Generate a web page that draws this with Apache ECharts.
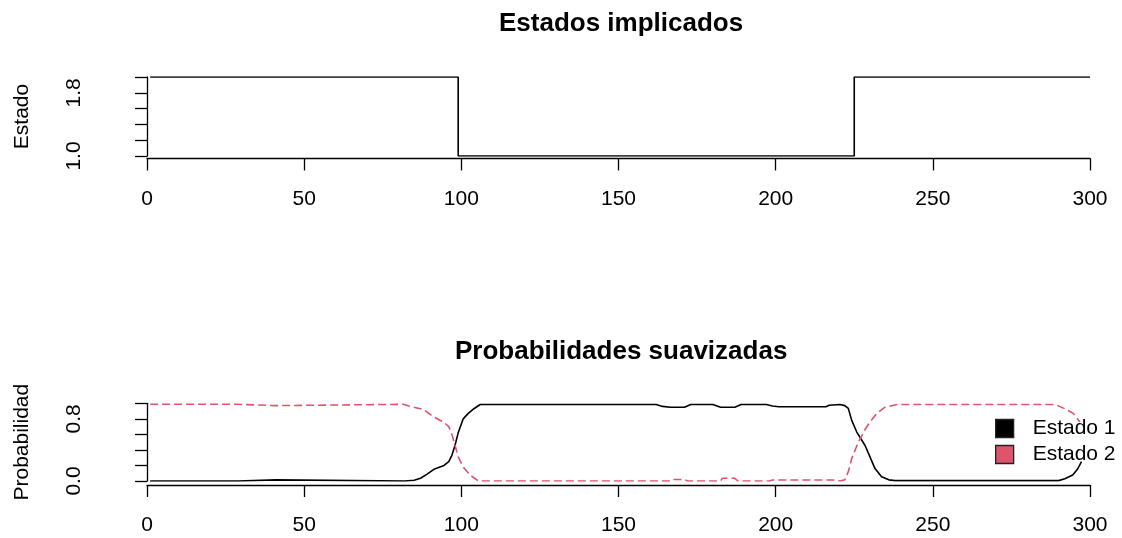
<!DOCTYPE html>
<html>
<head>
<meta charset="utf-8">
<title>Estados implicados</title>
<script src="https://cdn.jsdelivr.net/npm/echarts@6/dist/echarts.min.js"></script>
<style>
  html, body { margin: 0; padding: 0; background: #fff; }
  #chart { width: 1122px; height: 538px; }
</style>
</head>
<body>
<div id="chart"></div>
<script>
// Implied regime path: time at which each run starts, and its state
const estadoT = [1, 99, 225, 300];
const estadoV = [2, 1, 2, 2];

// Smoothed probability of regime 1 (time, probability)
const prob1T = [1, 29, 29.5, 41, 41.5, 82, 85, 87, 89, 91.5, 94.5, 96, 97, 98, 99, 100.6, 102.2, 104, 106,
  162, 164, 166.5, 171, 173, 180, 182.5, 187, 189, 197, 199, 201, 216, 217, 220.5, 222, 223.1, 224.2,
  225.8, 228.4, 230, 231.6, 233.7, 236, 238, 290, 292, 294.5, 296, 297.3];
const prob1V = [0.0, 0.0, 0.015, 0.015, 0.0, 0.0, 0.01, 0.035, 0.085, 0.155, 0.2, 0.25, 0.33, 0.46, 0.62, 0.8, 0.87, 0.93, 0.985,
  0.985, 0.96, 0.95, 0.95, 0.985, 0.985, 0.95, 0.95, 0.985, 0.985, 0.965, 0.955, 0.955, 0.975, 0.985, 0.97, 0.935, 0.78,
  0.63, 0.46, 0.31, 0.16, 0.055, 0.015, 0.005, 0.005, 0.03, 0.077, 0.15, 0.25];

// Smoothed probability of regime 2 (time, probability)
const prob2T = [1, 29, 29.5, 41, 41.5, 81.5, 84.7, 88, 91, 94.3, 96, 97, 98, 99, 100.6, 102.8, 105.4,
  166, 167, 171, 172, 182.5, 183, 187, 188, 198, 199, 219, 220.5, 222, 223.1, 224.2, 226.3, 228.4, 230,
  232.2, 234.8, 238.6, 288, 289.5, 292, 294.7, 296.8];
const prob2V = [0.987, 0.987, 0.97, 0.97, 0.987, 0.987, 0.95, 0.92, 0.83, 0.76, 0.70, 0.6, 0.46, 0.31, 0.18, 0.077, 0.0,
  0.0, 0.02, 0.02, 0.0, 0.0, 0.035, 0.035, 0.0, 0.0, 0.013, 0.013, 0.0, 0.015, 0.12, 0.29, 0.5, 0.66, 0.76,
  0.87, 0.95, 0.985, 0.985, 0.975, 0.93, 0.87, 0.76];

// Axis ticks and the labels printed on them
const xTicks = { min: 0, max: 300, step: 50 };
const yTopLabels = ['1.0', '1.8'];
const yBottomLabels = ['0.0', '0.8'];
const seriesNames = ['Estado 1', 'Estado 2'];
const seriesColors = ['#000000', '#DF536B'];

const FONT = '"Liberation Sans", Arial, sans-serif';
const pairs = (ts, vs) => ts.map((t, i) => [t, vs[i]]);

function xAxisFor(gridIndex, offset) {
  return {
    type: 'value', gridIndex, min: xTicks.min, max: xTicks.max, interval: xTicks.step,
    offset,
    axisLine: { show: true, onZero: false, lineStyle: { color: '#000', width: 1.3 } },
    axisTick: { show: true, length: 12, lineStyle: { color: '#000', width: 1.3 } },
    axisLabel: { margin: 30, color: '#000', fontSize: 21, fontFamily: FONT },
    splitLine: { show: false }
  };
}

function yAxisFor(gridIndex, min, max, labels, name) {
  return {
    type: 'value', gridIndex, min, max, interval: 0.2, offset: 37,
    name, nameLocation: 'middle', nameRotate: 90, nameGap: 77,
    nameTextStyle: { color: '#000', fontSize: 21, fontFamily: FONT },
    axisLine: { show: true, lineStyle: { color: '#000', width: 1.3 } },
    axisTick: { show: true, length: 12, lineStyle: { color: '#000', width: 1.3 } },
    axisLabel: {
      rotate: 90, margin: 25, color: '#000', fontSize: 21, fontFamily: FONT,
      showMinLabel: true, showMaxLabel: true,
      formatter: v => { const s = v.toFixed(1); return labels.includes(s) ? s : ''; }
    },
    splitLine: { show: false }
  };
}

const chart = echarts.init(document.getElementById('chart'), null, { renderer: 'canvas' });
chart.setOption({
  animation: false,
  backgroundColor: '#fff',
  title: [
    { text: 'Estados implicados', left: 494, top: 6,
      textStyle: { fontSize: 26, fontWeight: 'bold', color: '#000', fontFamily: FONT } },
    { text: 'Probabilidades suavizadas', left: 450, top: 334,
      textStyle: { fontSize: 26, fontWeight: 'bold', color: '#000', fontFamily: FONT } }
  ],
  grid: [
    { left: 147, right: 32, top: 77, height: 79 },
    { left: 147, right: 32, top: 403.3, height: 77.7 }
  ],
  xAxis: [xAxisFor(0, 2.5), xAxisFor(1, 4)],
  yAxis: [
    yAxisFor(0, 1, 2, yTopLabels, 'Estado'),
    yAxisFor(1, 0, 1, yBottomLabels, 'Probabilidad')
  ],
  legend: {
    orient: 'vertical', left: 990, top: 413, icon: 'rect',
    itemWidth: 18, itemHeight: 18, itemGap: 5,
    textStyle: { fontSize: 21, lineHeight: 18, color: '#000', fontFamily: FONT, padding: [0, 0, 0, 14] },
    data: seriesNames.map((n, i) => ({
      name: n, icon: 'rect',
      itemStyle: { color: seriesColors[i], borderColor: '#222', borderWidth: 1.3 }
    }))
  },
  series: [
    {
      type: 'line', xAxisIndex: 0, yAxisIndex: 0, step: 'end',
      data: pairs(estadoT, estadoV), showSymbol: false, silent: true,
      lineStyle: { color: '#000', width: 1.6 }
    },
    {
      name: seriesNames[0], type: 'line', xAxisIndex: 1, yAxisIndex: 1,
      data: pairs(prob1T, prob1V), showSymbol: false,
      itemStyle: { color: seriesColors[0] },
      lineStyle: { color: seriesColors[0], width: 1.6 }
    },
    {
      name: seriesNames[1], type: 'line', xAxisIndex: 1, yAxisIndex: 1,
      data: pairs(prob2T, prob2V), showSymbol: false,
      itemStyle: { color: seriesColors[1] },
      lineStyle: { color: seriesColors[1], width: 1.6, type: [8, 4] }
    }
  ]
});
</script>
</body>
</html>
